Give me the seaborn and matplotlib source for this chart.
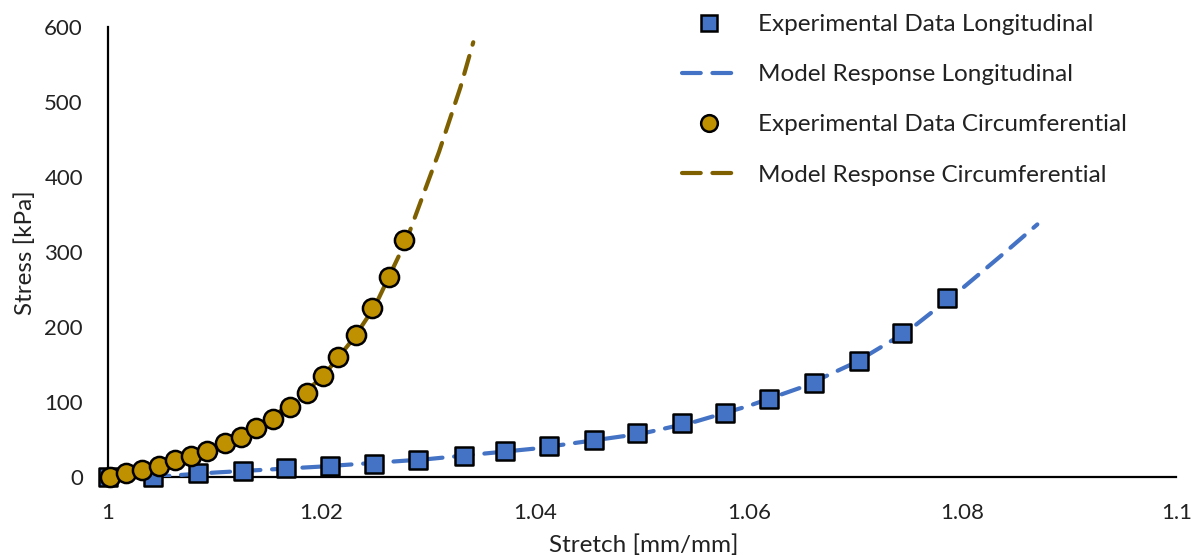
import matplotlib
matplotlib.use("Agg")
import matplotlib.pyplot as plt
from matplotlib.lines import Line2D
import seaborn as sns

# Experimental data, longitudinal direction
long_stretch = [1.0000, 1.0042, 1.0084, 1.0126, 1.0167, 1.0208, 1.0249, 1.0290, 1.0333,
                1.0372, 1.0413, 1.0455, 1.0495, 1.0537, 1.0578, 1.0619, 1.0661, 1.0703,
                1.0743, 1.0785]
long_stress = [0, 0, 5, 8, 12, 15, 17, 23, 28, 35, 41, 49, 59, 72, 85, 104, 126, 155, 192, 239]

# Model response, longitudinal direction
long_model_stretch = [1.0040, 1.0100, 1.0200, 1.0300, 1.0400, 1.0500, 1.0550, 1.0600, 1.0650,
                      1.0700, 1.0750, 1.0800, 1.0840, 1.0870]
long_model_stress = [0, 6, 14, 24, 38, 58, 74, 95, 120, 153, 196, 252, 300, 337]

# Experimental data, circumferential direction
circ_stretch = [1.0002, 1.0017, 1.0032, 1.0048, 1.0063, 1.0078, 1.0093, 1.0110, 1.0125,
                1.0139, 1.0155, 1.0170, 1.0186, 1.0201, 1.0215, 1.0232, 1.0247, 1.0263,
                1.0277]
circ_stress = [0, 5, 10, 15, 23, 28, 35, 45, 54, 65, 78, 94, 112, 135, 160, 189, 225, 267, 316]

# Model response, circumferential direction
circ_model_stretch = [1.0000, 1.0050, 1.0100, 1.0150, 1.0200, 1.0230, 1.0250, 1.0280,
                      1.0310, 1.0330, 1.0342]
circ_model_stress = [0, 15, 40, 75, 132, 185, 228, 318, 434, 520, 580]

x_ticks = [1.0, 1.02, 1.04, 1.06, 1.08, 1.1]
x_tick_labels = ["1", "1.02", "1.04", "1.06", "1.08", "1.1"]
y_ticks = [0, 100, 200, 300, 400, 500, 600]

blue = "#4472C4"
gold = "#BF9000"
brown = "#7F6000"
text_color = "#222222"

sns.set_theme(style="white")
plt.rcParams["font.family"] = ["Lato", "DejaVu Sans"]

fig = plt.figure(figsize=(11.99, 5.56), dpi=100)
ax = fig.add_axes([0.090, 0.142, 0.891, 0.809])

dash = (4.5, 2.8)
lw = 3.0

sns.lineplot(x=long_model_stretch, y=long_model_stress, ax=ax, color=blue,
             linewidth=lw, sort=False, legend=False, zorder=2)
sns.lineplot(x=circ_model_stretch, y=circ_model_stress, ax=ax, color=brown,
             linewidth=lw, sort=False, legend=False, zorder=2)
for ln in ax.lines:
    ln.set_dashes(dash)
    ln.set_dash_capstyle("round")

sns.scatterplot(x=long_stretch, y=long_stress, ax=ax, marker="s", s=150,
                color=blue, edgecolor="black", linewidth=1.8, zorder=3,
                clip_on=False, legend=False)
sns.scatterplot(x=circ_stretch, y=circ_stress, ax=ax, marker="o", s=190,
                color=gold, edgecolor="black", linewidth=1.8, zorder=4,
                clip_on=False, legend=False)

ax.set_xlim(1.0, 1.1)
ax.set_ylim(0, 600)
ax.set_xticks(x_ticks)
ax.set_xticklabels(x_tick_labels)
ax.set_yticks(y_ticks)
ax.tick_params(axis="both", length=0, labelsize=16, colors=text_color)
ax.tick_params(axis="x", pad=19)
ax.tick_params(axis="y", pad=18)

for side in ("top", "right"):
    ax.spines[side].set_visible(False)
for side in ("left", "bottom"):
    ax.spines[side].set_color("black")
    ax.spines[side].set_linewidth(1.6)
    ax.spines[side].set_zorder(1)

ax.set_xlabel("Stretch [mm/mm]", fontsize=17.5, color=text_color)
ax.set_ylabel("Stress [kPa]", fontsize=17.5, color=text_color)
ax.xaxis.set_label_coords(0.502, -0.128)
ax.yaxis.set_label_coords(-0.0675, 0.498)

handles = [
    Line2D([], [], marker="s", linestyle="none", markersize=11, markerfacecolor=blue,
           markeredgecolor="black", markeredgewidth=1.8),
    Line2D([], [], color=blue, linewidth=lw, dashes=dash, dash_capstyle="round"),
    Line2D([], [], marker="o", linestyle="none", markersize=12, markerfacecolor=gold,
           markeredgecolor="black", markeredgewidth=1.8),
    Line2D([], [], color=brown, linewidth=lw, dashes=dash, dash_capstyle="round"),
]
labels = ["Experimental Data Longitudinal", "Model Response Longitudinal",
          "Experimental Data Circumferential", "Model Response Circumferential"]
leg = ax.legend(handles, labels, loc="upper left",
                bbox_to_anchor=(682 / 1199, 1 - 14 / 556), bbox_transform=fig.transFigure,
                frameon=False, fontsize=17.5, handlelength=2.26, handletextpad=0.85,
                labelspacing=1.2, borderpad=0, borderaxespad=0, labelcolor=text_color)

fig.savefig("out.png", dpi=100)
